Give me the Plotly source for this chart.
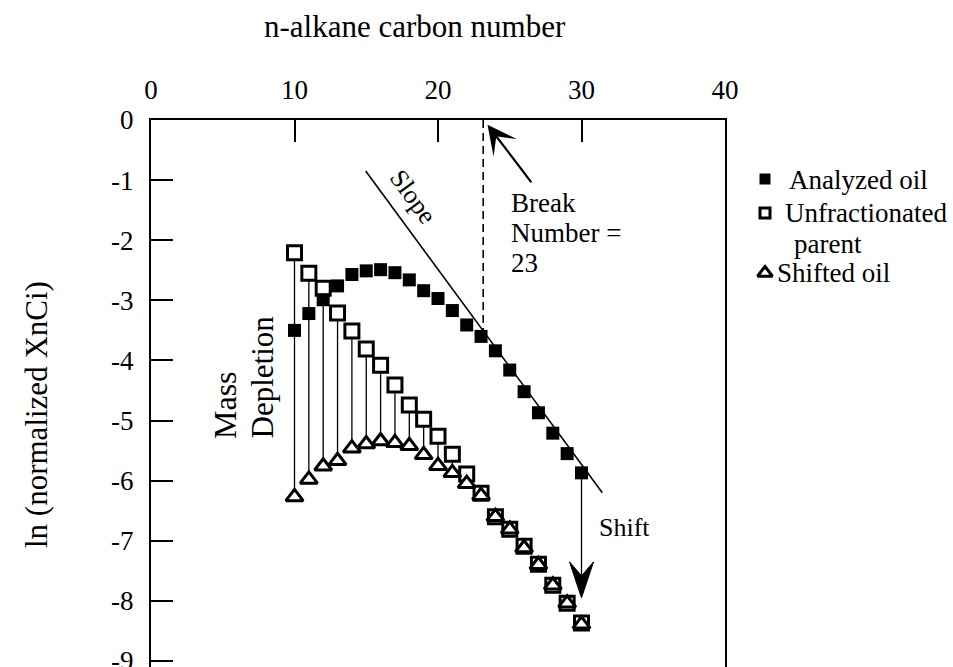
import plotly.graph_objects as go

# ---------------- data ----------------
carbon = list(range(10, 31))
analyzed_oil = [-3.50, -3.22, -2.99, -2.76, -2.57, -2.51, -2.49, -2.54, -2.66, -2.84,
                -2.97, -3.17, -3.41, -3.60, -3.84, -4.16, -4.52, -4.87, -5.21, -5.55, -5.87]
unfractionated_parent = [-2.21, -2.55, -2.80, -3.21, -3.51, -3.81, -4.08, -4.41, -4.74, -4.98,
                         -5.26, -5.56, -5.89, -6.21, -6.60, -6.81, -7.09, -7.39, -7.74, -8.04, -8.37]
shifted_oil = [-6.27, -5.98, -5.76, -5.67, -5.46, -5.39, -5.34, -5.37, -5.42, -5.57,
               -5.75, -5.87, -6.05, -6.25, -6.60, -6.81, -7.12, -7.40, -7.74, -8.04, -8.39]

x_ticks = [0, 10, 20, 30, 40]
y_ticks = [0, -1, -2, -3, -4, -5, -6, -7, -8, -9]
y_tick_labels = ["0", "-1", "-2", "-3", "-4", "-5", "-6", "-7", "-8", "-9"]

legend_names = ["Analyzed oil", "Unfractionated", "parent", "Shifted oil"]

break_number = 23
break_line_x = 23.15
break_line_y = [0, -3.5]
slope_line_x = [14.96, 31.45]
slope_line_y = [-0.85, -6.20]
shift_x = 30
shift_tip_y = -7.95

# ---------------- layout constants ----------------
FONT = "Liberation Serif"
W, H = 953, 667
ML, MR, MT, MB = 151, 0, 120, 0
PLOT_RIGHT = 725                      # right edge of the main plot frame (px)
LEG_LEFT = 731                        # left edge of the legend panel (px)
AREA_W = W - ML - MR
AREA_H = H - MT - MB
X_RANGE = [0, 40]
Y_RANGE = [-9.1, 0]
PX_X = (PLOT_RIGHT - ML) / (X_RANGE[1] - X_RANGE[0])
PX_Y = AREA_H / (Y_RANGE[1] - Y_RANGE[0])


def dx_(px):  # pixel x -> data x
    return X_RANGE[0] + (px - ML) / PX_X


def dy_(py):  # pixel y -> data y
    return Y_RANGE[1] - (py - MT) / PX_Y


def px_(px):  # pixel x -> paper x
    return (px - ML) / AREA_W


def py_(py):  # pixel y -> paper y
    return (H - MB - py) / AREA_H


fig = go.Figure()

# mass-depletion vertical connectors
vx, vy = [], []
for c, p, s in zip(carbon, unfractionated_parent, shifted_oil):
    if p - s > 0.05:
        vx += [c, c, None]
        vy += [p, s, None]
fig.add_trace(go.Scatter(x=vx, y=vy, mode="lines", line=dict(color="black", width=1.3),
                         showlegend=False, hoverinfo="skip"))

# slope line
fig.add_trace(go.Scatter(x=slope_line_x, y=slope_line_y, mode="lines",
                         line=dict(color="black", width=1.6), showlegend=False, hoverinfo="skip"))
# break number dashed line
fig.add_trace(go.Scatter(x=[break_line_x, break_line_x], y=break_line_y, mode="lines",
                         line=dict(color="black", width=1.6, dash="8px,5px"),
                         showlegend=False, hoverinfo="skip"))
# shift line
fig.add_trace(go.Scatter(x=[shift_x, shift_x], y=[analyzed_oil[-1], shift_tip_y + 0.3], mode="lines",
                         line=dict(color="black", width=1.3), showlegend=False, hoverinfo="skip"))

# data markers
M_PARENT = dict(symbol="square", size=14, color="white", line=dict(color="black", width=3))
M_ANALYZED = dict(symbol="square", size=13, color="black", line=dict(color="black", width=0))
M_SHIFTED = dict(symbol="triangle-up", size=15, color="white", line=dict(color="black", width=3))

fig.add_trace(go.Scatter(x=carbon, y=unfractionated_parent, mode="markers",
                         name="Unfractionated parent", showlegend=False, marker=M_PARENT))
fig.add_trace(go.Scatter(x=carbon, y=analyzed_oil, mode="markers",
                         name="Analyzed oil", showlegend=False, marker=M_ANALYZED))
fig.add_trace(go.Scatter(x=carbon, y=shifted_oil, mode="markers",
                         name="Shifted oil", showlegend=False, marker=M_SHIFTED))

# legend keys in a separate panel whose axes are in pixel units
LEG_X = 765
leg_rows = [179, 213, 273]
fig.add_trace(go.Scatter(x=[LEG_X], y=[leg_rows[0]], xaxis="x2", yaxis="y2", mode="markers",
                         showlegend=False, hoverinfo="skip",
                         marker=dict(symbol="square", size=11, color="black", line=dict(width=0))))
fig.add_trace(go.Scatter(x=[LEG_X], y=[leg_rows[1]], xaxis="x2", yaxis="y2", mode="markers",
                         showlegend=False, hoverinfo="skip",
                         marker=dict(symbol="square", size=10, color="white",
                                     line=dict(color="black", width=3))))
fig.add_trace(go.Scatter(x=[LEG_X], y=[leg_rows[2]], xaxis="x2", yaxis="y2", mode="markers",
                         showlegend=False, hoverinfo="skip",
                         marker=dict(symbol="triangle-up", size=13, color="white",
                                     line=dict(color="black", width=3))))

# shift arrowhead (long notched head)
hw, hl, hn = 12 / PX_X, 36 / PX_Y, 22 / PX_Y
path = (f"M {shift_x},{shift_tip_y} L {shift_x - hw},{shift_tip_y + hl} "
        f"L {shift_x},{shift_tip_y + hn} L {shift_x + hw},{shift_tip_y + hl} Z")
shapes = [dict(type="path", path=path, xref="x", yref="y",
               fillcolor="black", line=dict(color="black", width=1))]

tf = dict(family=FONT, size=27, color="black")
annotations = [
    # break arrow
    dict(x=23.45, y=-0.08, xref="x", yref="y", ax=45, ay=59, text="", showarrow=True,
         arrowhead=3, arrowsize=2.2, arrowwidth=2.2, arrowcolor="black"),
    dict(x=dx_(509), y=dy_(203), xref="x", yref="y", text="Break",
         showarrow=False, xanchor="left", yanchor="middle", font=tf),
    dict(x=dx_(509), y=dy_(233), xref="x", yref="y", text="Number =",
         showarrow=False, xanchor="left", yanchor="middle", font=tf),
    dict(x=dx_(509), y=dy_(263), xref="x", yref="y", text=str(break_number),
         showarrow=False, xanchor="left", yanchor="middle", font=tf),
    dict(x=dx_(413), y=dy_(196), xref="x", yref="y", text="Slope", textangle=54,
         xanchor="center", yanchor="middle",
         showarrow=False, font=dict(family=FONT, size=26, color="black")),
    dict(x=dx_(225), y=dy_(441), xref="x", yref="y", text="Mass", textangle=-90,
         xanchor="center", yanchor="bottom", showarrow=False,
         font=dict(family=FONT, size=32, color="black")),
    dict(x=dx_(262), y=dy_(441), xref="x", yref="y", text="Depletion", textangle=-90,
         xanchor="center", yanchor="bottom", showarrow=False,
         font=dict(family=FONT, size=31, color="black")),
    dict(x=dx_(597), y=dy_(527), xref="x", yref="y", text="Shift",
         xanchor="left", yanchor="middle",
         showarrow=False, font=dict(family=FONT, size=26, color="black")),
    # axis titles
    dict(x=px_(415), y=py_(27), xref="paper", yref="paper", text="n-alkane carbon number",
         xanchor="center", yanchor="middle",
         showarrow=False, font=dict(family=FONT, size=31, color="black")),
    dict(x=px_(36), y=py_(415), xref="paper", yref="paper", text="ln (normalized XnCi)",
         xanchor="center", yanchor="middle",
         textangle=-90, showarrow=False, font=dict(family=FONT, size=31, color="black")),
    # legend texts
    dict(x=px_(787), y=py_(180), xref="paper", yref="paper", text=legend_names[0],
         xanchor="left", yanchor="middle", showarrow=False, font=tf),
    dict(x=px_(783), y=py_(213), xref="paper", yref="paper", text=legend_names[1],
         xanchor="left", yanchor="middle", showarrow=False, font=tf),
    dict(x=px_(792), y=py_(244), xref="paper", yref="paper", text=legend_names[2],
         xanchor="left", yanchor="middle", showarrow=False, font=tf),
    dict(x=px_(775), y=py_(273), xref="paper", yref="paper", text=legend_names[3],
         xanchor="left", yanchor="middle", showarrow=False, font=tf),
]

fig.update_layout(
    width=W, height=H,
    margin=dict(l=ML, r=MR, t=MT, b=MB, autoexpand=False),
    paper_bgcolor="white", plot_bgcolor="white",
    font=dict(family=FONT, size=27, color="black"),
    shapes=shapes, annotations=annotations,
    showlegend=False,
    xaxis=dict(domain=[0, px_(PLOT_RIGHT)], range=X_RANGE, side="top", tickvals=x_ticks,
               ticks="inside", ticklen=22,
               tickwidth=2, tickcolor="black", showline=True, linewidth=2, linecolor="black",
               showgrid=False, zeroline=False, mirror=False, automargin=False, fixedrange=True,
               tickfont=dict(family=FONT, size=27, color="black"), ticklabelstandoff=8),
    yaxis=dict(range=Y_RANGE, tickvals=y_ticks, ticktext=y_tick_labels, ticks="inside", ticklen=22,
               tickwidth=2, tickcolor="black", showline=True, linewidth=2, linecolor="black",
               showgrid=False, zeroline=False, mirror=True, automargin=False, fixedrange=True,
               ticklabeloverflow="allow",
               tickfont=dict(family=FONT, size=27, color="black"), ticklabelstandoff=10),
    xaxis2=dict(domain=[px_(LEG_LEFT), 1], range=[LEG_LEFT, W], anchor="y2",
                visible=False, fixedrange=True),
    yaxis2=dict(domain=[0, 1], range=[H - MB, MT], anchor="x2",
                visible=False, fixedrange=True),
)

fig.write_html("out.html")
